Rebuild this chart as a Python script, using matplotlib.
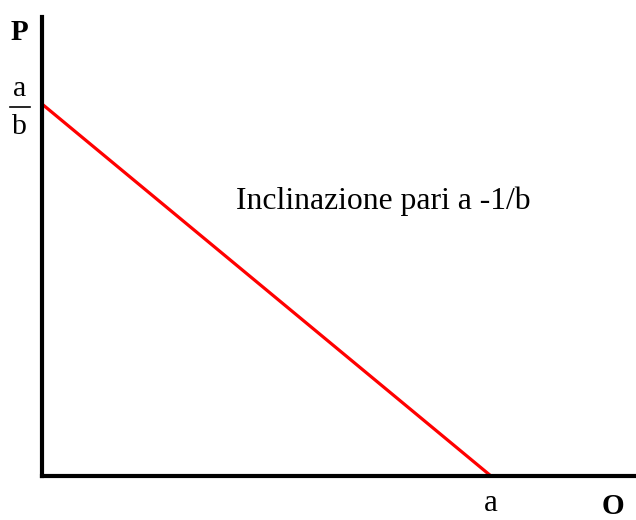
import matplotlib.pyplot as plt
from matplotlib.lines import Line2D

plt.rcParams['font.family'] = ['Liberation Serif', 'DejaVu Serif']

# retta di domanda: da (0, a/b) a (a, 0), con a = 1 e a/b = 1
x_punti = [0, 1]
y_punti = [1, 0]
testo = 'Inclinazione pari a -1/b'

fig = plt.figure(figsize=(6.36, 5.2), dpi=100)
ax = fig.add_axes([42 / 636, 44 / 520, 594 / 636, 459 / 520])

ax.plot(x_punti, y_punti, color='#ff0000', linewidth=2.3, solid_capstyle='butt')

ax.set_xlim(0, 594 / 449)
ax.set_ylim(0, 459 / 372)

for s in ['top', 'right']:
    ax.spines[s].set_visible(False)
ax.spines['left'].set_linewidth(3)
ax.spines['bottom'].set_linewidth(3)
ax.set_xticks([])
ax.set_yticks([])

# etichette (in pixel della figura, y = linea di base)
def fig_text(x, y, s, **kw):
    fig.text(x / 636, 1 - y / 520, s, ha='center', va='baseline', **kw)

fig_text(19, 40.5, 'P', fontsize=21, fontweight='bold')
fig_text(19.5, 95.5, 'a', fontsize=21.5)
fig_text(19.5, 134, 'b', fontsize=21.5)
fig.add_artist(Line2D([10 / 636, 30 / 636], [1 - 106.7 / 520, 1 - 106.7 / 520],
                      color='black', linewidth=1.2))
fig_text(491, 511, 'a', fontsize=22.5)
fig_text(613, 514, 'O', fontsize=21, fontweight='bold')
fig.text(236 / 636, 1 - 209 / 520, testo, ha='left', va='baseline', fontsize=22.8)

plt.savefig('out.png', dpi=100)
